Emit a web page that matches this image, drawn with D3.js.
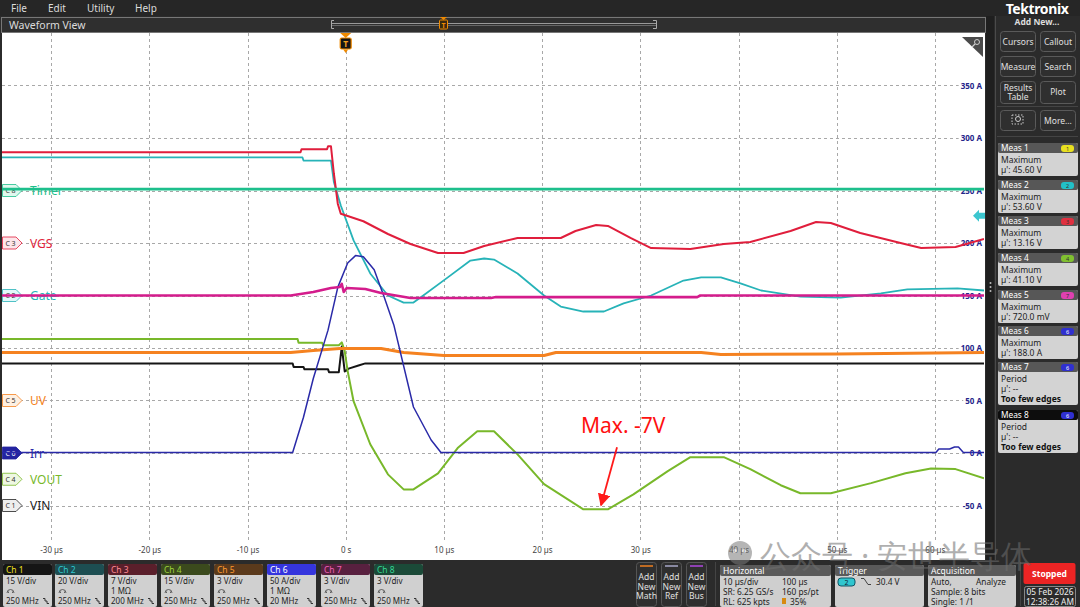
<!DOCTYPE html>
<html><head><meta charset="utf-8">
<script src="https://cdn.jsdelivr.net/npm/d3@7"></script>
<style>
html,body{margin:0;padding:0;background:#2a2a2a;overflow:hidden}
svg{display:block}
text{font-family:"Noto Sans","DejaVu Sans",sans-serif}
</style>
</head><body>
<svg id="c" width="1080" height="607"></svg>
<script>
// ---------------- DATA ----------------
const timeTicks = [-30,-20,-10,0,10,20,30,40,50,60];
const timeTickLabels = ["-30 µs","-20 µs","-10 µs","0 s","10 µs","20 µs","30 µs","40 µs","50 µs","60 µs"];
const ampTicks = [-50,0,50,100,150,200,250,300,350];
const ampTickLabels = ["-50 A","0 A","50 A","100 A","150 A","200 A","250 A","300 A","350 A"];

const chIds = ["C1","C2","C3","C4","C5","C6","C7","C8"];
const chLabels = ["VIN","Gate","VGS","VOUT","UV","Irr","","Timer"];
const chScales = [15,20,7,15,3,50,3,3];          // units per division
const chPos = [-1,3,4,-0.5,1,0,3,5];              // ground position (div)

// [time µs, value]
const ch1Vin = [[-35,40.6],[-5.4,40.6],[-5.3,39.6],[-4.3,39.6],[-4.2,38.9],[-1.8,38.9],[-1.7,38.1],[-0.7,38.1],[-0.4,45.4],[-0.1,38.3],[0.3,39.1],[1.3,40.0],[2.0,40.6],[65,40.6]];
const ch2Gate = [[-35,52.6],[-4.4,52.6],[-4.3,51.4],[-1.5,51.4],[-1.2,43.1],[-0.5,34.3],[0.8,21.0],[2.5,8.4],[4.3,0],[5.9,-2.7],[6.9,-2.7],[7.9,0],[10.4,6.9],[12.7,13.3],[14.1,14.1],[15.1,13.7],[17.5,8.4],[20.2,0],[21.9,-4.2],[24.2,-6.1],[26.3,-6.1],[28.3,-3.0],[31.1,0],[34.4,5.7],[36.2,6.9],[38.2,6.9],[40.2,4.6],[42.3,1.9],[46.3,-0.4],[50.4,-0.8],[54.5,0.8],[57.2,2.3],[62.3,2.7],[65,1.9]];
const ch3Vgs = [[-35,12.1],[-4.6,12.1],[-4.5,12.5],[-1.9,12.5],[-1.8,12.9],[-1.5,12.9],[-1.2,9.2],[-0.8,5.2],[-0.5,3.9],[0.2,3.6],[1.8,2.9],[4.3,1.2],[6.6,-0.13],[9.4,-1.33],[12.0,-1.33],[14.1,-0.4],[17.5,0.67],[21.9,0.67],[23.4,1.6],[25.5,2.4],[26.7,2.27],[29.0,0.67],[31.1,-0.67],[35.1,-0.8],[38.5,-0.13],[41.2,0.13],[45.3,1.6],[47.9,2.8],[49.4,2.67],[52.4,1.33],[56.5,0],[58.6,-0.67],[62.1,-0.53],[65,0.53]];
const ch4Vout = [[-35,40.1],[-4.9,40.1],[-4.8,39.0],[-2.4,39.0],[-2.3,38.3],[-0.7,38.3],[-0.4,39.1],[-0.1,36.6],[0.2,30.9],[0.8,22.3],[2.5,10.0],[4.3,1.4],[5.9,-2.9],[6.9,-2.9],[9.4,1.7],[11.4,8.9],[13.4,13.7],[15.1,13.7],[17.5,7.1],[20.2,-1.4],[24.2,-8.6],[26.7,-8.6],[29.3,-4.3],[32.8,2.3],[35.1,6.3],[38.5,6.3],[41.2,2.9],[44.3,-1.7],[46.3,-4.0],[49.4,-4.0],[53.5,-1.1],[57.0,1.7],[59.6,3.1],[62.1,2.9],[65,0.3]];
const ch5Uv = [[-35,2.74],[-5.6,2.74],[-3.3,2.86],[-0.6,2.97],[3.6,2.97],[5.9,2.74],[10.0,2.57],[20.2,2.57],[21.4,2.74],[36.2,2.74],[38.2,2.63],[50,2.66],[65,2.74]];
const ch6Irr = [[-35,0.5],[-5.4,0.5],[-4.3,34],[-3.3,71],[-1.8,117],[-0.8,158],[0.2,181],[1.0,188],[1.8,187],[2.9,174.5],[3.9,149],[4.9,122],[6.9,43.8],[8.7,12.4],[9.7,0.5],[60.1,0.5],[60.4,3.8],[61.5,3.8],[62.0,5.7],[62.4,5.7],[62.9,0.5],[65,0.5]];
const ch7 = [[-35,0],[-5.6,0],[-3.3,0.2],[-1.5,0.43],[-0.6,0.49],[-0.4,0.66],[-0.2,0.2],[0.1,0.43],[2.0,0.37],[3.6,0.14],[6.6,-0.14],[14.8,-0.14],[15.3,-0.09],[35.8,-0.09],[36.1,0],[65,0]];
const ch8Timer = [[-35,0.08],[65,0.08]];
const traces = [ch1Vin,ch2Gate,ch3Vgs,ch4Vout,ch5Uv,ch6Irr,ch7,ch8Timer];

const trigLevel = 30.4, trigCh = 1;

const measNames = ["Meas 1","Meas 2","Meas 3","Meas 4","Meas 5","Meas 6","Meas 7","Meas 8"];
const measSrc = ["1","2","3","4","7","6","6","6"];
const measType = ["Maximum","Maximum","Maximum","Maximum","Maximum","Maximum","Period","Period"];
const measVal = ["µ': 45.60 V","µ': 53.60 V","µ': 13.16 V","µ': 41.10 V","µ': 720.0 mV","µ': 188.0 A","µ': --","µ': --"];
const measNote = ["","","","","","","Too few edges","Too few edges"];

const badgeNames = ["Ch 1","Ch 2","Ch 3","Ch 4","Ch 5","Ch 6","Ch 7","Ch 8"];
const badgeScale = ["15 V/div","20 V/div","7 V/div","15 V/div","3 V/div","50 A/div","3 V/div","3 V/div"];
const badgeImp = ["","","1 MΩ","","","1 MΩ","",""];
const badgeBw = ["250 MHz","250 MHz","200 MHz","250 MHz","250 MHz","20 MHz","250 MHz","250 MHz"];

// ---------------- STYLE ----------------
const traceColors = ["#151515","#27b3b8","#e01e3c","#78b82a","#f58220","#2a2aa8","#d41c8c","#1dbf8c"];
const traceWidths = [2,1.8,2,2,3,1.5,2.6,2.6];
const labelColors = ["#222","#27b3b8","#e01e3c","#78b82a","#f58220","#2a2aa8","#d41c8c","#1dbf8c"];
const markerFill = ["#eeeeee","#e2f8f9","#fde6ea","#eef7e2","#fef0e2","#2323a0","#fbe3f1","#e0f8ee"];
const badgeHead = ["#151515","#1d4e52","#5a1f2b","#3b4a1d","#5b3a1c","#3535dd","#58203f","#1b4a38"];
const badgeHeadTxt = ["#f0e020","#30c8d0","#ff8a95","#9bd23c","#ff9a30","#ffffff","#f060b8","#35d895"];
const measBadgeCol = {"1":"#e8e020","2":"#22c0c8","3":"#e03040","4":"#80c030","7":"#e040b0","6":"#3030d0"};

const svg = d3.select("#c");
const W = 1080, H = 607;
svg.append("rect").attr("width",W).attr("height",H).attr("fill","#2b2b2b");

// menu bar
svg.append("rect").attr("x",0).attr("y",0).attr("width",W).attr("height",16).attr("fill","#262626");
[["File",11],["Edit",48],["Utility",87],["Help",135]].forEach(([t,xx])=>{
  svg.append("text").attr("x",xx).attr("y",11.5).attr("font-size",10).attr("fill","#dcdcdc").text(t);
});
// waveform view bar
svg.append("rect").attr("x",1.5).attr("y",17.5).attr("width",984).attr("height",15).attr("fill","#2f2f2f").attr("stroke","#777");
svg.append("text").attr("x",9).attr("y",28.5).attr("font-size",10.5).attr("fill","#dcdcdc").text("Waveform View");
svg.append("path").attr("d","M334,20.5 H331.5 V28.5 H334").attr("fill","none").attr("stroke","#aaa");
svg.append("path").attr("d","M653,20.5 H656.5 V28.5 H653").attr("fill","none").attr("stroke","#aaa");
svg.append("line").attr("x1",332).attr("x2",656).attr("y1",23.5).attr("y2",23.5).attr("stroke","#999");
svg.append("line").attr("x1",332).attr("x2",656).attr("y1",25.5).attr("y2",25.5).attr("stroke","#666");
svg.append("path").attr("d","M440,17 L447,17 L443.5,20 Z").attr("fill","#f08a00");
svg.append("rect").attr("x",439.5).attr("y",20).attr("width",8).attr("height",9).attr("fill","#3a2a10").attr("stroke","#f08a00").attr("rx",1);
svg.append("text").attr("x",443.5).attr("y",27.5).attr("font-size",7).attr("font-weight","bold").attr("fill","#f08a00").attr("text-anchor","middle").text("T");

// plot area
const x = d3.scaleLinear().domain([-35,65]).range([2,984]);
const yDiv = d3.scaleLinear().domain([-2,8]).range([558,33]);
const PT = 33, PB = 541;
svg.append("rect").attr("x",2).attr("y",33).attr("width",983).attr("height",527).attr("fill","#ffffff");

const grid = svg.append("g").attr("stroke","#a8a8a8").attr("stroke-dasharray","3,3").attr("stroke-width",1);
timeTicks.forEach(t=>{
  grid.append("line").attr("x1",Math.round(x(t))+0.5).attr("x2",Math.round(x(t))+0.5).attr("y1",PT).attr("y2",PB);
});
d3.range(-1,8).forEach(d=>{
  grid.append("line").attr("x1",2).attr("x2",984).attr("y1",Math.round(yDiv(d))+0.5).attr("y2",Math.round(yDiv(d))+0.5);
});

// right amp axis (Ch6)
const ampScale = d3.scaleLinear().domain([-100,400]).range([558,33]);
const ampAxis = svg.append("g").attr("transform","translate(982,0)")
  .call(d3.axisLeft(ampScale).tickValues(ampTicks).tickFormat((d,i)=>ampTickLabels[i]).tickSize(0).tickPadding(0));
ampAxis.select(".domain").remove();
ampAxis.selectAll("text").attr("font-size",8).attr("font-weight","bold").attr("fill","#25258a")
  .attr("font-family","Noto Sans, DejaVu Sans, sans-serif");
ampAxis.selectAll(".tick").each(function(){
  const g = d3.select(this); const bb = g.select("text").node().getBBox();
  g.insert("rect","text").attr("x",bb.x-2).attr("y",bb.y).attr("width",bb.width+3).attr("height",bb.height).attr("fill","#fff");
});

// time axis
const tAxis = svg.append("g").attr("transform","translate(0,547)")
  .call(d3.axisBottom(x).tickValues(timeTicks).tickFormat((d,i)=>timeTickLabels[i]).tickSize(0).tickPadding(0));
tAxis.select(".domain").remove();
tAxis.selectAll("text").attr("font-size",8).attr("fill","#444").attr("font-family","Noto Sans, DejaVu Sans, sans-serif");

// channel markers & labels
chIds.forEach((id,i)=>{
  if(!chLabels[i]) return;
  const yy = yDiv(chPos[i]);
  svg.append("path").attr("d",`M2.5,${yy-6} H16 L22,${yy} L16,${yy+6} H2.5 Z`)
    .attr("fill",markerFill[i]).attr("stroke",i===5?"#2323a0":labelColors[i]).attr("stroke-width",0.8);
  svg.append("text").attr("x",10.5).attr("y",yy+2.5).attr("font-size",7).attr("text-anchor","middle")
    .attr("fill",i===5?"#fff":"#333").text(id.replace("C","C "));
  svg.append("text").attr("x",30).attr("y",yy+4.5).attr("font-size",12).attr("fill",labelColors[i]).text(chLabels[i]);
});

// traces
svg.append("defs").append("clipPath").attr("id","clip").append("rect").attr("x",2).attr("y",PT).attr("width",982).attr("height",PB-PT);
const tg = svg.append("g").attr("clip-path","url(#clip)");
traces.forEach((data,i)=>{
  const line = d3.line().x(d=>x(d[0])).y(d=>yDiv(chPos[i] + d[1]/chScales[i]));
  tg.append("path").datum(data).attr("d",line).attr("fill","none")
    .attr("stroke",traceColors[i]).attr("stroke-width",traceWidths[i]).attr("stroke-linejoin","round");
});

// trigger T marker
const tx = x(0);
svg.append("path").attr("d",`M${tx-5.5},33 L${tx+5.5},33 L${tx},38 Z`).attr("fill","#f08a00");
svg.append("rect").attr("x",tx-5.5).attr("y",38).attr("width",11).attr("height",11).attr("rx",1.5).attr("fill","#151515").attr("stroke","#f08a00").attr("stroke-width",1.2);
svg.append("text").attr("x",tx).attr("y",47).attr("font-size",8.5).attr("font-weight","bold").attr("fill","#f5a020").attr("text-anchor","middle").text("T");
svg.append("path").attr("d",`M${tx-2.5},49.5 L${tx+2.5},49.5 L${tx},53 Z`).attr("fill","#f08a00");

// trigger level arrow
const ty = yDiv(chPos[trigCh] + trigLevel/chScales[trigCh]);
svg.append("path").attr("d",`M973,${ty} L979,${ty-6} L979,${ty-3} L985,${ty-3} L985,${ty+3} L979,${ty+3} L979,${ty+6} Z`).attr("fill","#3cc6cf");

// magnifier corner
svg.append("path").attr("d","M962,37 L983,37 L983,57 Z").attr("fill","#4a4a4a");
svg.append("circle").attr("cx",977).attr("cy",42).attr("r",2.5).attr("fill","none").attr("stroke","#ccc").attr("stroke-width",1);
svg.append("line").attr("x1",975).attr("y1",44).attr("x2",972).attr("y2",47).attr("stroke","#ccc").attr("stroke-width",1.2);

// annotation
const minPt = ch4Vout.reduce((a,b)=>b[1]<a[1]?b:a);
const ax = x(25.9), ay = yDiv(chPos[3] + minPt[1]/chScales[3]) - 3;
const defs = svg.select("defs");
defs.append("marker").attr("id","arr").attr("viewBox","0 0 10 10").attr("refX",9).attr("refY",5)
  .attr("markerWidth",7).attr("markerHeight",7).attr("orient","auto-start-reverse")
  .append("path").attr("d","M0,0 L10,5 L0,10 Z").attr("fill","#ff1a1a");
svg.append("line").attr("x1",ax+17).attr("y1",ay-59).attr("x2",ax+1).attr("y2",ay-1)
  .attr("stroke","#ff1a1a").attr("stroke-width",1.8).attr("marker-end","url(#arr)");
svg.append("text").attr("x",ax-19).attr("y",ay-73).attr("font-size",21).attr("fill","#ff1010")
  .attr("font-family","Liberation Sans, Arial, sans-serif").text("Max. -7V");

// ---------------- RIGHT PANEL ----------------
svg.append("rect").attr("x",986).attr("y",16).attr("width",94).attr("height",544).attr("fill","#2b2b2b");
svg.append("rect").attr("x",986).attr("y",16).attr("width",8).attr("height",544).attr("fill","#1f1f1f");
[283,287,291].forEach(yy=>svg.append("circle").attr("cx",990.5).attr("cy",yy).attr("r",1).attr("fill","#bbb"));
svg.append("line").attr("x1",995.5).attr("x2",995.5).attr("y1",16).attr("y2",560).attr("stroke","#4a4a4a");
svg.append("text").attr("x",1037).attr("y",13.5).attr("font-size",14).attr("font-weight","bold").attr("fill","#fff").attr("text-anchor","middle").attr("letter-spacing",-0.4).text("Tektronix");
svg.append("text").attr("x",1037).attr("y",25).attr("font-size",8.5).attr("font-weight","bold").attr("fill","#ddd").attr("text-anchor","middle").text("Add New...");
const btns = [["Cursors",1000,31,20],["Callout",1040,31,20],["Measure",1000,56,20],["Search",1040,56,20],["Results|Table",1000,81,22],["Plot",1040,81,22],["",1000,110,20],["More...",1040,110,20]];
btns.forEach(([t,bx,by,bh])=>{
  svg.append("rect").attr("x",bx+0.5).attr("y",by+0.5).attr("width",35).attr("height",bh).attr("rx",3).attr("fill","#2f2f2f").attr("stroke","#5a5a5a");
  const parts = t.split("|");
  parts.forEach((p,k)=>{
    svg.append("text").attr("x",bx+18).attr("y",by+(parts.length>1?9.5+k*9:13.5)).attr("font-size",8.5).attr("fill","#e0e0e0").attr("text-anchor","middle").text(p);
  });
});
svg.append("rect").attr("x",1012).attr("y",115).attr("width",11).attr("height",9).attr("fill","none").attr("stroke","#ccc").attr("stroke-dasharray","1.5,1.5");
svg.append("circle").attr("cx",1018).attr("cy",119).attr("r",2.5).attr("fill","none").attr("stroke","#ccc");
svg.append("line").attr("x1",997).attr("x2",1078).attr("y1",106.5).attr("y2",106.5).attr("stroke","#444");
svg.append("line").attr("x1",997).attr("x2",1078).attr("y1",136.5).attr("y2",136.5).attr("stroke","#444");

const measTop = [143,180,216,253,290,326,362,410];
measNames.forEach((m,i)=>{
  const my = measTop[i]; const tall = measNote[i] !== "";
  const bodyH = tall ? 33 : 23;
  svg.append("rect").attr("x",998).attr("y",my).attr("width",80).attr("height",10+bodyH).attr("rx",2).attr("fill","#d3d3d3");
  svg.append("rect").attr("x",998).attr("y",my).attr("width",80).attr("height",10).attr("rx",2).attr("fill",i===7?"#0d0d0d":"#575757");
  svg.append("text").attr("x",1001).attr("y",my+8.3).attr("font-size",8.3).attr("fill","#fff").text(m);
  svg.append("rect").attr("x",1061).attr("y",my+2).attr("width",13).attr("height",7).attr("rx",3).attr("fill",measBadgeCol[measSrc[i]]);
  svg.append("text").attr("x",1067.5).attr("y",my+7.8).attr("font-size",5.5).attr("text-anchor","middle").attr("fill",measSrc[i]==="6"?"#fff":"#333").text(measSrc[i]);
  svg.append("text").attr("x",1001).attr("y",my+20).attr("font-size",8.5).attr("fill","#222").text(measType[i]);
  svg.append("text").attr("x",1001).attr("y",my+30).attr("font-size",8.5).attr("fill","#222").text(measVal[i]);
  if(tall) svg.append("text").attr("x",1001).attr("y",my+40).attr("font-size",8.5).attr("font-weight","bold").attr("fill","#111").text(measNote[i]);
});

// ---------------- BOTTOM PANEL ----------------
svg.append("rect").attr("x",0).attr("y",560).attr("width",W).attr("height",47).attr("fill","#2b2b2b");
const bx0 = [3,55,108,161,214,267,321,374];
badgeNames.forEach((n,i)=>{
  const bx = bx0[i];
  svg.append("rect").attr("x",bx).attr("y",564).attr("width",49).attr("height",43).attr("rx",2).attr("fill","#d0d0d0");
  svg.append("rect").attr("x",bx).attr("y",564).attr("width",49).attr("height",11).attr("rx",2).attr("fill",badgeHead[i]);
  svg.append("text").attr("x",bx+3).attr("y",573).attr("font-size",8.5).attr("fill",badgeHeadTxt[i]).text(n);
  svg.append("text").attr("x",bx+3).attr("y",584).attr("font-size",8).attr("fill","#222").text(badgeScale[i]);
  if(badgeImp[i]) svg.append("text").attr("x",bx+3).attr("y",594).attr("font-size",8).attr("fill","#222").text(badgeImp[i]);
  else svg.append("path").attr("d",`M${bx+4},593 a3,3 0 0 1 7,0 M${bx+5.5},593 v-1.5 M${bx+9.5},593 v-1.5`).attr("fill","none").attr("stroke","#444").attr("stroke-width",0.8);
  svg.append("text").attr("x",bx+3).attr("y",604).attr("font-size",8).attr("fill","#222").text(badgeBw[i]);
  svg.append("path").attr("d",`M${bx+40},598.5 h2 v2.5 h2 v2.5 h2`).attr("fill","none").attr("stroke","#333").attr("stroke-width",1);
});
// add new buttons
const addBtns = [["Math",636,"#f08020"],["Ref",661,"#a8a8c8"],["Bus",686,"#b048e0"]];
addBtns.forEach(([t,bx,c])=>{
  svg.append("rect").attr("x",bx+0.5).attr("y",562.5).attr("width",20).attr("height",44).attr("rx",3).attr("fill","#2f2f2f").attr("stroke","#555");
  svg.append("line").attr("x1",bx+4).attr("x2",bx+17).attr("y1",566).attr("y2",566).attr("stroke",c).attr("stroke-width",1.5);
  ["Add","New",t].forEach((p,k)=>svg.append("text").attr("x",bx+10.5).attr("y",580+k*9.5).attr("font-size",8.5).attr("text-anchor","middle").attr("fill","#e0e0e0").text(p));
});
svg.append("line").attr("x1",715.5).attr("x2",715.5).attr("y1",562).attr("y2",606).attr("stroke","#444");
svg.append("line").attr("x1",1020.5).attr("x2",1020.5).attr("y1",562).attr("y2",606).attr("stroke","#444");
function infoBox(bx,w,title){
  svg.append("rect").attr("x",bx).attr("y",565).attr("width",w).attr("height",42).attr("rx",2).attr("fill","#cfcfcf");
  svg.append("rect").attr("x",bx).attr("y",565).attr("width",w).attr("height",11).attr("rx",2).attr("fill","#5a5a5a");
  svg.append("text").attr("x",bx+3).attr("y",574).attr("font-size",8.5).attr("fill","#fff").text(title);
}
function t8(tx_,ty_,s){ return svg.append("text").attr("x",tx_).attr("y",ty_).attr("font-size",8.3).attr("fill","#222").text(s); }
infoBox(720,111,"Horizontal");
t8(723,585,"10 µs/div"); t8(782,585,"100 µs");
t8(723,595,"SR: 6.25 GS/s"); t8(782,595,"160 ps/pt");
t8(723,605,"RL: 625 kpts");
svg.append("rect").attr("x",782).attr("y",598).attr("width",4).attr("height",6).attr("fill","#d88a10");
t8(790,605,"35%");
infoBox(835,89,"Trigger");
svg.append("rect").attr("x",838).attr("y",578).attr("width",17).attr("height",8).attr("rx",3).attr("fill","#30c6cf").attr("stroke","#156");
svg.append("text").attr("x",846.5).attr("y",585).attr("font-size",7).attr("text-anchor","middle").attr("fill","#123").text("2");
svg.append("path").attr("d","M861,578.5 h3 l4,6 h3").attr("fill","none").attr("stroke","#333").attr("stroke-width",0.9);
t8(876,585,"30.4 V");
infoBox(928,88,"Acquisition");
t8(931,585,"Auto,"); t8(976,585,"Analyze");
t8(931,595,"Sample: 8 bits");
t8(931,605,"Single: 1 /1");
svg.append("rect").attr("x",1023.5).attr("y",563).attr("width",52).attr("height",21).attr("rx",2).attr("fill","#ec2424");
svg.append("text").attr("x",1049.5).attr("y",576.5).attr("font-size",8.5).attr("font-weight","bold").attr("text-anchor","middle").attr("fill","#fff").text("Stopped");
svg.append("rect").attr("x",1024.5).attr("y",586.5).attr("width",51).attr("height",20).attr("rx",2).attr("fill","#2b2b2b").attr("stroke","#888");
svg.append("text").attr("x",1050).attr("y",595).attr("font-size",8.3).attr("text-anchor","middle").attr("fill","#eee").text("05 Feb 2026");
svg.append("text").attr("x",1050).attr("y",604.5).attr("font-size",8.3).attr("text-anchor","middle").attr("fill","#eee").text("12:38:26 AM");

// watermark
const wm = svg.append("g").attr("opacity",0.55);
wm.append("circle").attr("cx",740).attr("cy",553).attr("r",12).attr("fill","#7a7a7a");
wm.append("circle").attr("cx",735).attr("cy",551).attr("r",2).attr("fill","#ddd");
wm.append("circle").attr("cx",744).attr("cy",551).attr("r",2).attr("fill","#ddd");
wm.append("text").attr("x",760).attr("y",567).attr("font-size",31).attr("fill","#6e6e6e")
  .attr("font-family","Noto Sans CJK SC, sans-serif").text("公众号 · 安世半导体");
</script>
</body></html>
